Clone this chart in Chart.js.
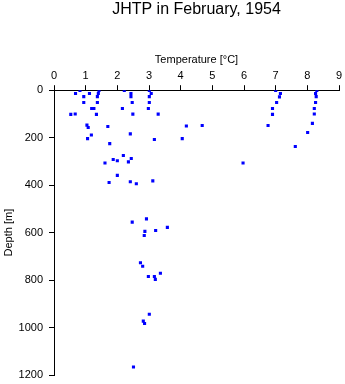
<!DOCTYPE html>
<html>
<head>
<meta charset="utf-8">
<script src="https://cdn.jsdelivr.net/npm/chart.js@4/dist/chart.umd.min.js"></script>
<style>
  html, body { margin: 0; padding: 0; background: #fff; }
  #wrap { width: 345px; height: 384px; }
</style>
</head>
<body>
<div id="wrap"><canvas id="grafico"></canvas></div>
<script>
// dati: temperatura [°C] e profondita [m]
const temperature = [
  0.82, 0.68, 1.12, 1.42, 1.40, 0.94, 1.37, 0.94, 1.37, 1.19, 1.26, 0.53, 0.67, 1.34,
  1.04, 1.08, 1.18, 1.06, 1.70, 1.76, 1.61, 1.87, 2.00, 2.19, 2.35, 2.44, 2.00, 1.74,
  2.41, 2.60, 3.12,
  2.22, 2.43, 2.43, 2.47, 2.16, 2.49, 2.41,
  3.01, 3.07, 3.01, 3.01, 2.98, 3.29, 3.17,
  4.18, 4.68, 4.05, 5.97,
  7.00, 7.15, 7.12, 7.03, 6.90, 6.90, 6.76, 7.62,
  8.30, 8.26, 8.28, 8.26, 8.22, 8.22, 8.16, 8.01,
  2.47, 2.92, 2.87, 2.85, 3.21, 3.58, 2.73, 2.80, 2.98, 3.17, 3.20, 3.36,
  3.01, 2.82, 2.86, 2.51
];
const depth = [
  1, 14, 14, 1, 14, 27, 27, 52, 52, 77, 77, 102, 100, 102,
  147, 157, 189, 204, 153, 225, 307, 292, 297, 275, 302, 288, 359, 389,
  386, 394, 382,
  1, 14, 27, 52, 77, 101, 184,
  1, 14, 27, 52, 77, 101, 208,
  151, 149, 204, 307,
  1, 14, 28, 52, 77, 102, 149, 237,
  1, 14, 27, 52, 77, 100, 140, 178,
  556, 542, 595, 612, 591, 578, 727, 742, 785, 785, 797, 771,
  944, 973, 983, 1166
];

const tempTicks = [0, 1, 2, 3, 4, 5, 6, 7, 8, 9];
const depthTicks = [0, 200, 400, 600, 800, 1000, 1200];

const punti = temperature.map((t, i) => ({ x: t, y: depth[i] }));

const fontBase = { family: '"Liberation Sans", Arial, sans-serif', size: 11 };

new Chart(document.getElementById('grafico'), {
  type: 'scatter',
  data: {
    datasets: [{
      data: punti,
      pointStyle: 'rect',
      pointRadius: 2.2,
      pointHoverRadius: 2.2,
      pointBackgroundColor: '#0000ff',
      pointBorderWidth: 0,
      showLine: false
    }]
  },
  options: {
    responsive: true,
    maintainAspectRatio: false,
    animation: false,
    layout: { padding: { left: 0, right: 6, top: 0, bottom: 9 } },
    plugins: {
      legend: { display: false },
      tooltip: { enabled: false },
      title: {
        display: true,
        fullSize: false,
        text: 'JHTP in February, 1954',
        color: '#000',
        font: { family: fontBase.family, size: 16, weight: 'normal' },
        padding: { top: 0, bottom: 10 }
      }
    },
    scales: {
      x: {
        type: 'linear',
        position: 'top',
        min: 0,
        max: 9,
        afterBuildTicks: s => { s.ticks = tempTicks.map(v => ({ value: v })); },
        afterFit: s => { s.height = 61; s.paddingLeft = 0; s.paddingRight = 0; },
        grid: { drawOnChartArea: false, color: '#000', tickColor: '#000', tickLength: 5 },
        border: { display: true, color: '#000', width: 1 },
        ticks: { color: '#000', font: fontBase, padding: 3, maxRotation: 0, callback: v => String(v) },
        title: {
          display: true,
          text: 'Temperature [°C]',
          color: '#000',
          font: fontBase,
          padding: { top: 24, bottom: 0 }
        }
      },
      y: {
        type: 'linear',
        reverse: true,
        min: 0,
        max: 1200,
        afterBuildTicks: s => { s.ticks = depthTicks.map(v => ({ value: v })); },
        afterFit: s => { s.width = 54; s.paddingTop = 0; s.paddingBottom = 0; },
        grid: { drawOnChartArea: false, color: '#000', tickColor: '#000', tickLength: 5 },
        border: { display: true, color: '#000', width: 1 },
        ticks: { color: '#000', font: fontBase, padding: 6, callback: v => String(v) },
        title: {
          display: true,
          text: 'Depth [m]',
          color: '#000',
          font: fontBase,
          padding: { top: 2, bottom: 0 }
        }
      }
    }
  }
});
</script>
</body>
</html>
